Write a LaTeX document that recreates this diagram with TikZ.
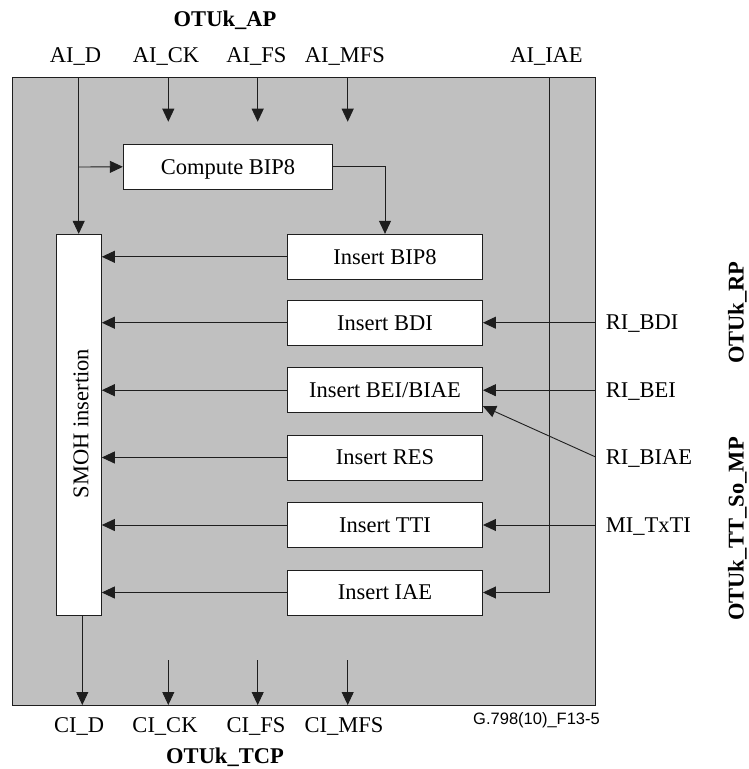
\documentclass[tikz,border=0pt]{standalone}
\usepackage{fontspec}
\setmainfont{Liberation Serif}
\newfontfamily\figfont{Liberation Sans}
\usetikzlibrary{arrows.meta,calc}
\definecolor{bg}{RGB}{192,192,192}
\definecolor{ln}{RGB}{30,30,30}
\tikzset{
  lbl/.style={font=\fontsize{22.5}{26}\selectfont, inner sep=0pt, anchor=base},
  blbl/.style={font=\fontsize{22.5}{26}\selectfont\bfseries, inner sep=0pt, anchor=base},
  fbox/.style={draw=ln, line width=0.9pt, fill=white, inner sep=0pt,
     font=\fontsize{22.5}{26}\selectfont, text height=14.9pt, text depth=0pt},
  insbox/.style={fbox, minimum width=195pt, minimum height=45pt},
  arr/.style={draw=ln, line width=0.9pt, -{Triangle[length=13pt,width=12pt]}},
  ln/.style={draw=ln, line width=0.9pt},
}
\begin{document}
\begin{tikzpicture}[x=1pt,y=-1pt]
\useasboundingbox (0,0) rectangle (748,769);
% frame
\node[draw=ln, line width=1pt, fill=bg, minimum width=583pt, minimum height=628pt, inner sep=0pt] (frame) at (303.5,391) {};

% top labels
\node[blbl] (ap) at (225,26.7) {OTUk\_AP};
\node[lbl] (laid) at (75.5,62.3) {AI\_D};
\node[lbl] (laick) at (166,62.3) {AI\_CK};
\node[lbl] (laifs) at (256.5,62.3) {AI\_FS};
\node[lbl] (laimfs) at (345,62.3) {AI\_MFS};
\node[lbl] (laiiae) at (546.5,62.3) {AI\_IAE};

% bottom labels
\node[lbl] (lcid) at (79.2,732.7) {CI\_D};
\node[lbl] (lcick) at (165,732.7) {CI\_CK};
\node[lbl] (lcifs) at (256,732.7) {CI\_FS};
\node[lbl] (lcimfs) at (344,732.7) {CI\_MFS};
\node[blbl] (tcp) at (225,763.3) {OTUk\_TCP};
\node[font=\figfont\fontsize{16.5}{19}\selectfont, inner sep=0pt, anchor=base east] (fig) at (600,724) {G.798(10)\_F13-5};

% right labels
\node[lbl, anchor=base west] (lrbdi) at (605.7,329.7) {RI\_BDI};
\node[lbl, anchor=base west] (lrbei) at (605.7,397.2) {RI\_BEI};
\node[lbl, anchor=base west] (lrbiae) at (605.7,464.5) {RI\_BIAE};
\node[lbl, anchor=base west] (lmtxti) at (605.7,532) {MI\_TxTI};
\node[blbl, rotate=90] (rp) at (743.5,312.5) {OTUk\_RP};
\node[blbl, rotate=90] (mp) at (743.5,529) {OTUk\_TT\_So\_MP};

% boxes
\node[fbox, minimum width=209.4pt, minimum height=45pt] (cb) at (228,166.8) {Compute BIP8};
\node[insbox] (bip8) at (385,256.8) {Insert BIP8};
\node[insbox] (bdi) at (385,322.7) {Insert BDI};
\node[insbox] (bei) at (385,390.2) {Insert BEI/BIAE};
\node[insbox] (res) at (385,457.5) {Insert RES};
\node[insbox] (tti) at (385,525) {Insert TTI};
\node[insbox] (iae) at (385,592.5) {Insert IAE};
\node[draw=ln, line width=0.9pt, fill=white, inner sep=0pt, minimum width=45.3pt, minimum height=381pt] (smoh) at (78.7,424.8) {};
\node[font=\fontsize{22.5}{26}\selectfont, inner sep=0pt, anchor=base, rotate=90] (smohtxt) at (88.3,423.5) {SMOH insertion};

% coordinates
\coordinate (aiD) at (78.7,77);
\coordinate (brD) at (78.7,167);
\coordinate (aiCK) at (168.3,77);
\coordinate (aiCKt) at (168.3,121.7);
\coordinate (aiFS) at (257.7,77);
\coordinate (aiFSt) at (257.7,121.7);
\coordinate (aiMFS) at (347.7,77);
\coordinate (aiMFSt) at (347.7,121.7);
\coordinate (aiIAE) at (549.3,77);
\coordinate (ciD) at (82.3,705);
\coordinate (ciCKs) at (168.3,660);
\coordinate (ciCK) at (168.3,705);
\coordinate (ciFSs) at (257.7,660);
\coordinate (ciFS) at (257.7,705);
\coordinate (ciMFSs) at (347.7,660);
\coordinate (ciMFS) at (347.7,705);
\coordinate (riBIAE) at (595,456.7);

% connectors
\draw[arr] (aiD) -- (smoh.north);
\draw[arr] (brD) -- (cb.west);
\draw[arr] (aiCK) -- (aiCKt);
\draw[arr] (aiFS) -- (aiFSt);
\draw[arr] (aiMFS) -- (aiMFSt);
\draw[arr] (cb.east) -| (bip8.north);
\foreach \b in {bip8,bdi,bei,res,tti,iae}{
  \draw[arr] (\b.west) -- (\b.west -| smoh.east);
}
\draw[arr] (bdi.east -| frame.east) -- (bdi.east);
\draw[arr] (bei.east -| frame.east) -- (bei.east);
\draw[arr] (tti.east -| frame.east) -- (tti.east);
\draw[arr] (riBIAE) -- ([yshift=-16pt]bei.east);
\draw[arr] (aiIAE) |- (iae.east);
\draw[arr] (smoh.south -| ciD) -- (ciD);
\draw[arr] (ciCKs) -- (ciCK);
\draw[arr] (ciFSs) -- (ciFS);
\draw[arr] (ciMFSs) -- (ciMFS);
\end{tikzpicture}
\end{document}
